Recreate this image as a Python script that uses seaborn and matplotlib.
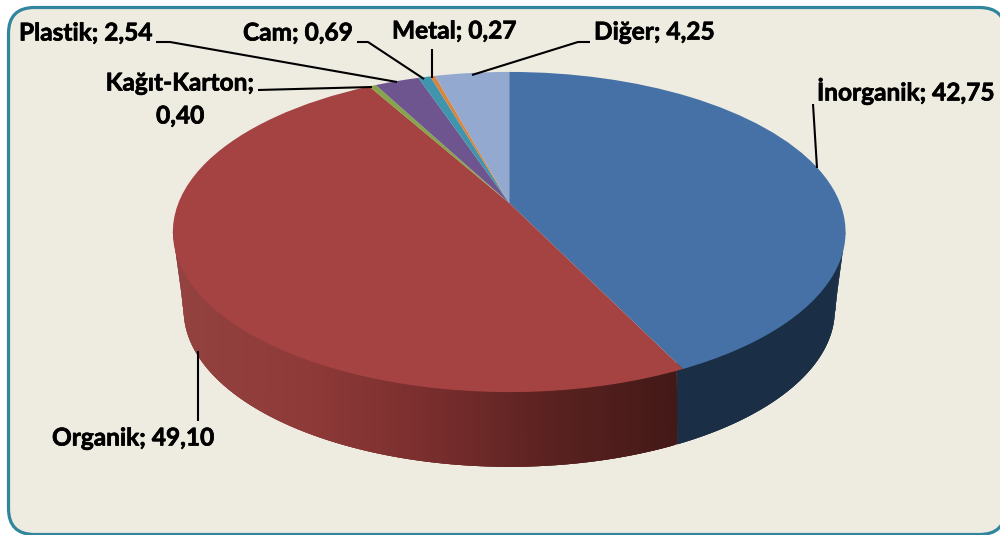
import numpy as np
import matplotlib
matplotlib.use("Agg")
import matplotlib.pyplot as plt
import matplotlib.patheffects as pe
import seaborn as sns
from matplotlib.collections import PolyCollection
from matplotlib.patches import FancyBboxPatch
from matplotlib.transforms import Transform

categories = ["İnorganik", "Organik", "Kağıt-Karton", "Plastik", "Cam", "Metal", "Diğer"]
values = [42.75, 49.10, 0.40, 2.54, 0.69, 0.27, 4.25]
value_labels = ["42,75", "49,10", "0,40", "2,54", "0,69", "0,27", "4,25"]
top_colors = ["#4671A6", "#A54342", "#86A44A", "#6F5590", "#3F94AE", "#DB843D", "#93A9CF"]

sns.set_theme(style="white")
plt.rcParams["font.family"] = ["Lato", "DejaVu Sans"]


class Perspective(Transform):
    """Tilted disc: maps the unit-circle pie into canvas pixels."""
    input_dims = output_dims = 2
    is_separable = False
    has_inverse = False
    K, A, B, CX, CY = 0.181, 330.8, 154.8, 509.2, 203.0

    def transform_non_affine(self, v):
        v = np.asarray(v, dtype=float)
        d = 1 + self.K * v[:, 1]
        return np.column_stack([self.CX + self.A * v[:, 0] / d, self.CY - self.B * v[:, 1] / d])


persp = Perspective()


def base_edge(p):
    """Lower rim of the disc, from points on the upper rim."""
    return np.column_stack([510 + (p[:, 0] - 510) * 0.968, 310 + (p[:, 1] - 232) * 0.98])


fig = plt.figure(figsize=(10, 5.35), dpi=100, facecolor="white")
ax = fig.add_axes([0, 0, 1, 1])

wedges, _ = ax.pie(values, colors=top_colors, startangle=90, counterclock=False, frame=True,
                   wedgeprops=dict(linewidth=0, edgecolor="none"))
ax.set_aspect("auto")
ax.set_xlim(0, 1000)
ax.set_ylim(535, 0)
ax.set_axis_off()

ax.add_patch(FancyBboxPatch((8.5, 7.5), 997, 527, boxstyle="round,pad=0,rounding_size=26",
                            facecolor="#EEECE1", edgecolor="#31859C", linewidth=2.3, zorder=0))

# side wall of the two front slices
bounds = np.cumsum([0] + values) * 3.6
lim_r, lim_l = 100.4, 259.6
wall_specs = [
    (max(bounds[0], lim_r), min(bounds[1], lim_l), ["#1A2E46", "#1A2E46"]),
    (bounds[1], lim_l, ["#431917", "#5A2220", "#7A2E2E", "#8E3A38", "#934240"]),
]
for t0, t1, ramp in wall_specs:
    n = 200
    deg = np.linspace(t0, t1, n + 1)
    th = np.radians(deg)
    unit = np.column_stack([np.sin(th), np.cos(th)])
    top = persp.transform(unit)
    r = 0.97 + 0.03 * (np.abs(deg - 180) / 79.6) ** 10
    inner = persp.transform(unit * r[:, None])
    bot = base_edge(top)
    # each strip overlaps the next one, so no seams show through
    polys = [np.vstack([inner[i], inner[min(i + 3, n)], bot[min(i + 3, n)], bot[i]]) for i in range(n)]
    cols = sns.blend_palette(ramp, n_colors=n)
    # colour follows horizontal position, like a linear gradient
    xs = (bot[:-1, 0] - bot[:, 0].min()) / np.ptp(bot[:, 0])
    idx = ((1 - xs) * (n - 1)).astype(int)
    fc = [cols[i] for i in idx]
    ax.add_collection(PolyCollection(polys, facecolors=fc, edgecolors="none", linewidths=0, zorder=1))

for w in wedges:
    w.set_transform(persp + ax.transData)
    w.set_zorder(2)
    w.set_clip_on(False)

FS = 17.6
heavier = [pe.withStroke(linewidth=0.5, foreground="black")]
label_pos = [(817, 91, "left"), (52, 438, "left"), None,
             (19, 33, "left"), (243, 33, "left"), (392, 31, "left"), (594, 32, "left")]
for cat, txt, pos in zip(categories, value_labels, label_pos):
    if pos is None:
        continue
    ax.text(pos[0], pos[1], f"{cat}; {txt}", ha=pos[2], va="center", fontsize=FS,
            fontweight="bold", color="black", zorder=4, path_effects=heavier)
ax.text(180, 83, f"{categories[2]};", ha="center", va="center", fontsize=FS,
        fontweight="bold", color="black", zorder=4, path_effects=heavier)
ax.text(180, 116, value_labels[2], ha="center", va="center", fontsize=FS,
        fontweight="bold", color="black", zorder=4, path_effects=heavier)

leaders = [
    ([813, 817], [104, 168]),
    ([198, 198], [351, 421]),
    ([258, 372], [90, 87]),
    ([156, 170, 397], [42, 42, 82]),
    ([357, 368, 424], [42, 42, 79]),
    ([432, 432], [49, 78]),
    ([472, 578, 590], [75, 42, 42]),
]
for xs, ys in leaders:
    ax.plot(xs, ys, color="black", lw=1.5, zorder=3, solid_capstyle="butt")

fig.savefig("out.png", dpi=100, facecolor="white")
